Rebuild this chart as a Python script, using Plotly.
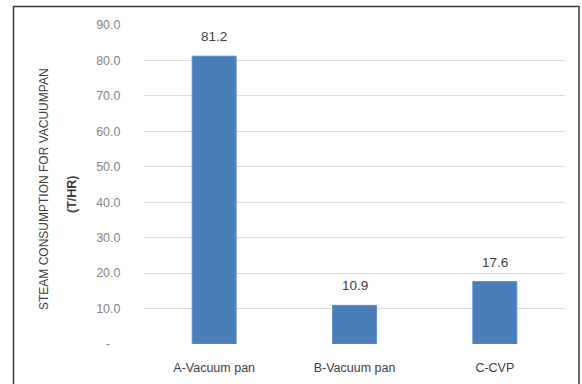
import plotly.graph_objects as go

# Steam consumption per pan type
categories = ["A-Vacuum pan", "B-Vacuum pan", "C-CVP"]
steam_t_hr = [81.2, 10.9, 17.6]
tick_values = [0, 10, 20, 30, 40, 50, 60, 70, 80, 90]
tick_labels = ["-\u00a0\u00a0\u00a0", "10.0", "20.0", "30.0", "40.0", "50.0",
               "60.0", "70.0", "80.0", "90.0"]

W, H = 582, 384
L, R, T, B = 144, 17, 25, 40
pw, ph = W - L - R, H - T - B

def px_to_paper_x(px):
    return (px - L) / pw

def px_to_paper_y(py):
    return (H - B - py) / ph

font = "Liberation Sans, Arial, sans-serif"

fig = go.Figure(go.Bar(
    x=categories,
    y=steam_t_hr,
    marker=dict(color="#4a7ebb", line=dict(color="#5b8ccc", width=1)),
    cliponaxis=False,
))

# value labels above each bar
value_labels = [
    dict(x=c, y=v, xref="x", yref="y", text=f"{v:.1f}",
         showarrow=False, xanchor="center", yanchor="bottom", yshift=10,
         font=dict(family=font, size=13.5, color="#404040"))
    for c, v in zip(categories, steam_t_hr)
]

fig.update_layout(
    width=W, height=H,
    margin=dict(l=L, r=R, t=T, b=B, autoexpand=False),
    paper_bgcolor="white",
    plot_bgcolor="white",
    bargap=0.687,
    showlegend=False,
    font=dict(family=font),
    xaxis=dict(
        showgrid=False, showline=False, zeroline=False, automargin=False,
        ticks="outside", ticklen=12, tickcolor="rgba(0,0,0,0)",
        tickfont=dict(family=font, size=12.5, color="#404040"),
    ),
    yaxis=dict(
        range=[0, 90], automargin=False,
        tickvals=tick_values, ticktext=tick_labels,
        showgrid=True, gridcolor="#dcdcdc", gridwidth=1.2,
        zeroline=False, showline=False,
        ticks="outside", ticklen=20, tickcolor="rgba(0,0,0,0)",
        tickfont=dict(family=font, size=12.5, color="#858585"),
    ),
    shapes=[dict(
        type="rect", xref="paper", yref="paper",
        x0=px_to_paper_x(13.5), x1=px_to_paper_x(579),
        y0=px_to_paper_y(400), y1=px_to_paper_y(6.5),
        line=dict(color="#3a3a3a", width=1.5),
        fillcolor="rgba(0,0,0,0)", layer="below",
    )],
    annotations=value_labels + [
        dict(text="STEAM CONSUMPTION FOR VACUUMPAN", textangle=-90,
             xref="paper", yref="paper",
             x=px_to_paper_x(44), y=px_to_paper_y(189),
             showarrow=False, xanchor="center", yanchor="middle",
             font=dict(family=font, size=12, color="#404040")),
        dict(text="<b>(T/HR)</b>", textangle=-90,
             xref="paper", yref="paper",
             x=px_to_paper_x(72), y=px_to_paper_y(194),
             showarrow=False, xanchor="center", yanchor="middle",
             font=dict(family=font, size=12.5, color="#404040")),
    ],
)

fig.write_html("out.html")
